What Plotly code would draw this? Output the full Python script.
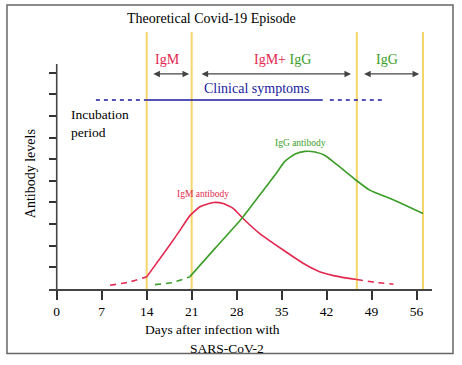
import plotly.graph_objects as go

# ---- data ----
day_ticks = [0, 7, 14, 21, 28, 35, 42, 49, 56]
level_ticks = [1, 2, 3, 4, 5, 6, 7, 8, 9, 10]
phase_bounds = [14, 21, 46.7, 57]

igm_early_days = [8.3, 11.1, 14.0]
igm_early_lvl = [0.17, 0.31, 0.56]
igm_days = [14.0, 17.4, 19.2, 20.7, 22.3, 24.4, 25.9, 27.5, 29.0, 31.6, 35.3, 38.4, 41.0, 44.1, 46.7]
igm_lvl = [0.56, 1.95, 2.72, 3.38, 3.80, 4.00, 3.95, 3.72, 3.26, 2.56, 1.79, 1.18, 0.79, 0.56, 0.44]
igm_late_days = [46.7, 49.5, 52.4]
igm_late_lvl = [0.44, 0.31, 0.22]

igg_early_days = [15.3, 17.9, 20.7]
igg_early_lvl = [0.20, 0.29, 0.56]
igg_days = [20.7, 24.7, 28.8, 32.4, 34.0, 35.5, 37.1, 38.6, 40.2, 41.7, 43.3, 44.9, 46.5, 48.7, 51.9, 54.4, 57.0]
igg_lvl = [0.56, 1.90, 3.26, 4.66, 5.28, 5.90, 6.24, 6.36, 6.33, 6.18, 5.82, 5.44, 5.05, 4.57, 4.18, 3.85, 3.49]

symptom_dash1 = [6.1, 14.0]
symptom_solid = [14.0, 41.4]
symptom_dash2 = [42.5, 51.2]
symptom_level = 8.74

phase_arrows = [(14.8, 20.6), (22.3, 45.8), (47.6, 56.4)]
arrow_level = 9.94

RED = "#e2284f"
GREEN = "#3c9e28"
BLUE = "#1a1a9e"
YELLOW = "#f6d56a"
FONT = "Liberation Serif"

XR = [-1.2, 58.4]
YR = [0, 11.88]

fig = go.Figure()

def add_line(x, y, color, dash="solid", shape="spline"):
    fig.add_trace(go.Scatter(x=x, y=y, mode="lines",
                             line=dict(color=color, width=1.6, dash=dash, shape=shape, smoothing=0.5),
                             hoverinfo="skip", showlegend=False))

add_line(igm_early_days, igm_early_lvl, RED, dash="6px,5px")
add_line(igm_days, igm_lvl, RED)
add_line(igm_late_days, igm_late_lvl, RED, dash="6px,5px")
add_line(igg_early_days, igg_early_lvl, GREEN, dash="6px,5px")
add_line(igg_days, igg_lvl, GREEN)

add_line(symptom_dash1, [symptom_level] * 2, BLUE, dash="4px,4px", shape="linear")
add_line(symptom_solid, [symptom_level] * 2, BLUE, shape="linear")
add_line(symptom_dash2, [symptom_level] * 2, BLUE, dash="4px,4px", shape="linear")

shapes = []
for b in phase_bounds:
    shapes.append(dict(type="line", xref="x", yref="y", x0=b, x1=b, y0=0, y1=YR[1],
                       line=dict(color=YELLOW, width=2), layer="below"))
# y-axis line
shapes.append(dict(type="line", xref="x", yref="y", x0=0, x1=0, y0=0, y1=10.4,
                   line=dict(color="#444", width=1.6)))
# outer frame
shapes.append(dict(type="rect", xref="paper", yref="paper", x0=-0.1097, x1=1.0548,
                   y0=-0.2505, y1=1.1052, line=dict(color="#666", width=1.5)))

annotations = []
def txt(x, y, text, size=14, color="black", xanchor="center", xref="x", yref="y", angle=0, align="center"):
    annotations.append(dict(x=x, y=y, xref=xref, yref=yref, text=text, showarrow=False,
                            xanchor=xanchor, yanchor="middle", align=align, textangle=angle,
                            font=dict(family=FONT, size=size, color=color)))

def px2paper(px, py):
    return (px - 49) / 383.0, (288.7 - py) / 256.7

tx, ty = px2paper(211, 19)
txt(tx, ty, "Theoretical Covid-19 Episode", 14, xref="paper", yref="paper")
tx, ty = px2paper(212, 329)
txt(tx, ty, "Days after infection with", 13.5, xref="paper", yref="paper")
tx, ty = px2paper(227, 348)
txt(tx, ty, "SARS-CoV-2", 13.5, xref="paper", yref="paper")
tx, ty = px2paper(30, 174)
txt(tx, ty, "Antibody levels", 14, xref="paper", yref="paper", angle=-90)

txt(17.3, 10.59, "IgM", 14, RED)
txt(35.2, 10.59, f'<span style="color:{RED}">IgM+</span> <span style="color:{GREEN}">IgG</span>', 14)
txt(51.4, 10.59, "IgG", 14, GREEN)
txt(31.1, 9.25, "Clinical symptoms", 14, BLUE)
txt(1.9, 7.65, "Incubation<br>period", 13.5, xanchor="left", align="left")
txt(22.76, 4.38, "IgM antibody", 9.5, RED)
txt(37.86, 6.76, "IgG antibody", 9.5, GREEN)

for a0, a1 in phase_arrows:
    annotations.append(dict(x=a1, y=arrow_level, ax=a0, ay=arrow_level, xref="x", yref="y",
                            axref="x", ayref="y", text="", showarrow=True,
                            arrowhead=2, arrowside="end+start", arrowsize=1.1,
                            arrowwidth=1.2, arrowcolor="#444"))

fig.update_layout(
    width=462, height=365,
    margin=dict(l=49, r=30, t=32, b=76.3),
    paper_bgcolor="white", plot_bgcolor="white",
    shapes=shapes, annotations=annotations,
    xaxis=dict(range=XR, showgrid=False, zeroline=False, showline=True, linecolor="#444",
               linewidth=1.6, ticks="outside", ticklen=9, tickwidth=1.5, tickcolor="#333",
               tickmode="array", tickvals=day_ticks, ticktext=[str(d) for d in day_ticks],
               tickfont=dict(family=FONT, size=13.5, color="black")),
    yaxis=dict(range=YR, showgrid=False, zeroline=False, showline=False,
               anchor="free", position=(0 - XR[0]) / (XR[1] - XR[0]),
               ticks="outside", ticklen=8, tickwidth=1.6, tickcolor="#333",
               tickmode="array", tickvals=level_ticks, showticklabels=False),
)

fig.write_html("out.html", config={"displayModeBar": False},
               post_script="document.body.style.margin='0';document.body.style.overflow='hidden';")
